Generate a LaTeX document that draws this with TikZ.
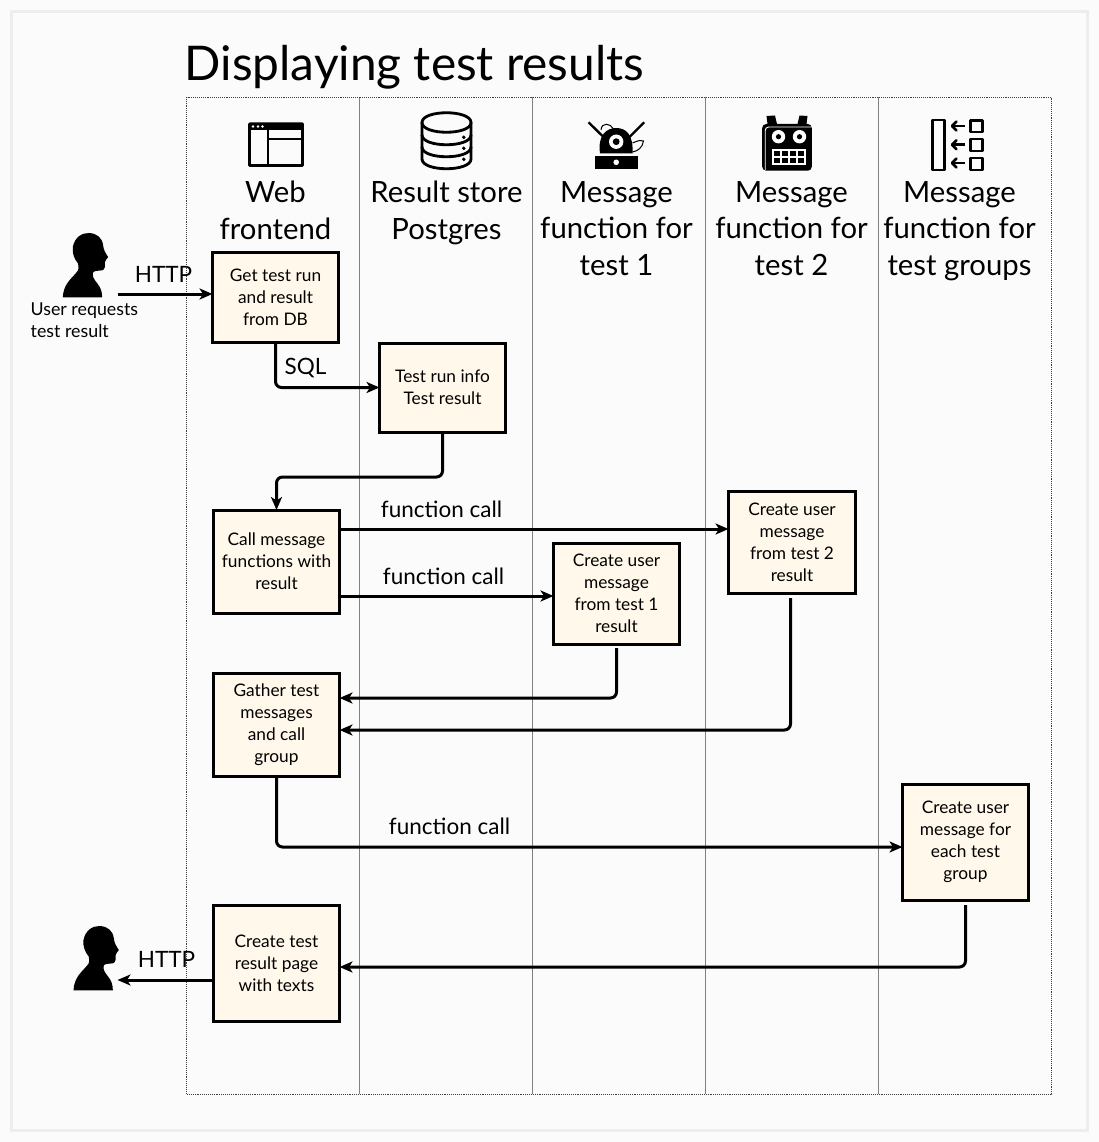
\documentclass[tikz,border=0pt]{standalone}
\usepackage{fontspec}
\setmainfont{Lato}
\usetikzlibrary{arrows.meta,calc}
\definecolor{pagebg}{HTML}{FBFBFB}
\definecolor{framec}{HTML}{EDEDED}
\definecolor{boxfill}{HTML}{FFF8EB}
\definecolor{lanec}{HTML}{808080}
\tikzset{
  x=1pt,y=-1pt,
  box/.style={draw=black,line width=3pt,fill=boxfill,align=center,inner sep=0pt,outer sep=0pt,
    font=\fontsize{17.3}{22}\selectfont,execute at begin node={\rule{0pt}{16pt}}},
  lowered/.style={execute at begin node={\rule{0pt}{19pt}}},
  lanehead/.style={align=center,inner sep=0pt,font=\fontsize{29.3}{36.5}\selectfont},
  lbl/.style={inner sep=0pt,font=\fontsize{22.5}{25}\selectfont},
  conn/.style={line width=3pt,rounded corners=6pt,-{Stealth[length=13pt,width=11pt,inset=3.5pt]}},
  lane/.style={draw=lanec,line width=0.9pt},
  ico/.style={line width=2.8pt,line cap=round,line join=round},
  personshape/.pic={
    \fill[black,x=0.3333pt,y=-0.3333pt]
      (42,241) .. controls (44,205) and (62,190) .. (80,170)
      .. controls (92,158) and (90,150) .. (88,140)
      .. controls (76,125) and (70,110) .. (72,90)
      .. controls (78,60) and (100,47) .. (122,48)
      .. controls (145,50) and (160,62) .. (163,85)
      .. controls (164,98) and (170,108) .. (178,120)
      .. controls (174,128) and (168,130) .. (168,136)
      .. controls (170,148) and (168,158) .. (160,160)
      .. controls (150,162) and (138,160) .. (133,166)
      .. controls (130,178) and (134,185) .. (146,200)
      .. controls (156,212) and (160,225) .. (160,241) -- cycle;
  }
}
\begin{document}
\begin{tikzpicture}
\useasboundingbox (0.5,0) rectangle (1099.5,1142);
\fill[pagebg] (0,0) rectangle (1100,1142);
\draw[framec,line width=3pt] (11.5,11.5) rectangle (1087.5,1130.5);

% title
\node[anchor=base west,inner sep=0pt,font=\fontsize{47.8}{50}\selectfont] (title) at (185,81) {Displaying test results};

% lanes
\draw[lane] (360,97) -- (360,1094);
\draw[lane] (533,97) -- (533,1094);
\draw[lane] (706,97) -- (706,1094);
\draw[lane] (879,97) -- (879,1094);
\draw[black!75,line width=0.9pt,densely dotted] (187,97) rectangle (1052,1094);

% lane heads
\node[lanehead,anchor=base] (h1) at (276,239.3) {Web\\frontend};
\node[lanehead,anchor=base] (h2) at (447,239.3) {Result store\\Postgres};
\node[lanehead,anchor=base] (h3) at (617,275) {Message\\function for\\test 1};
\node[lanehead,anchor=base] (h4) at (792,275) {Message\\function for\\test 2};
\node[lanehead,anchor=base] (h5) at (960,275) {Message\\function for\\test groups};

% web icon
\draw[line width=2.4pt,line join=round] (250,124) rectangle (303,165.5);
\fill[black,rounded corners=1pt] (249,122.5) rectangle (304,130);
\fill[white] (253.5,126.5) circle (1.3) (258.5,126.5) circle (1.3) (263,126.5) circle (1.3);
\draw[line width=2pt] (268,130) -- (268,165.5) (268,139) -- (303,139);

% database icon
\draw[ico] (422.5,122.5) .. controls (422.5,109.5) and (471.5,109.5) .. (471.5,122.5)
  .. controls (471.5,135.5) and (422.5,135.5) .. (422.5,122.5) -- cycle;
\draw[ico] (422.5,122.5) -- (422.5,159) .. controls (422.5,172) and (471.5,172) .. (471.5,159) -- (471.5,122.5);
\draw[ico] (422.5,135) .. controls (422.5,148) and (471.5,148) .. (471.5,135);
\draw[ico] (422.5,147) .. controls (422.5,160) and (471.5,160) .. (471.5,147);
\fill[black] (464.3,137.3) circle (1.9) (464.3,148.3) circle (1.9) (464.3,159.3) circle (1.9);

% robot 1 icon
\fill[black] (595.7,156) rectangle (638,168.7);
\fill[white] (616.7,162.3) circle (2.8);
\fill[black] (600.5,153.5) .. controls (598,135) and (607,128) .. (616.7,128)
  .. controls (627,128) and (634,135) .. (633,153.5) -- cycle;
\draw[line width=2.4pt] (589,122.3) -- (604,137) (644.7,122.3) -- (630,137);
\fill[white] (616.7,141.7) circle (7.2);
\fill[black] (616.7,141.7) circle (3.4);
\draw[line width=1pt] (601.5,130) .. controls (602,122) and (611,123) .. (614,129);
\draw[line width=1pt] (633,143) .. controls (640,140) and (642,140) .. (644,141)
  .. controls (643,148) and (638,151) .. (633,152);

% robot 2 icon
\fill[black] (768,124) -- (767,116) -- (775.5,115.5) -- (777.5,124) -- cycle;
\fill[black] (798,124) -- (800,115.5) -- (808,116) -- (807,124) -- cycle;
\fill[black,rounded corners=4pt] (762.7,124) rectangle (812.3,170.7);
\draw[white,line width=0.9pt,rounded corners=3.5pt] (765.7,170) -- (765.7,127) -- (812,127);
\fill[white] (779,136.7) circle (6.7) (800,136.7) circle (6.7);
\fill[black] (779,136.7) circle (2.6) (800,136.7) circle (2.6);
\draw[white,line width=1.1pt,fill=black] (773.5,150) rectangle (805.5,164);
\draw[white,line width=1.1pt] (781.5,150) -- (781.5,164) (789.5,150) -- (789.5,164) (797.5,150) -- (797.5,164) (773.5,157) -- (805.5,157);

% groups icon
\draw[ico] (933,120) rectangle (945,170);
\draw[ico] (971,120.5) rectangle (983,132);
\draw[ico] (971,139) rectangle (983,151);
\draw[ico] (971,158) rectangle (983,170);
\foreach \iy in {126,144.7,163}{
  \draw[line width=2.6pt] (965.5,\iy) -- (952.5,\iy);
  \draw[line width=2.6pt,line cap=round,line join=round] (957,\iy-4.5) -- (952.5,\iy) -- (957,\iy+4.5);
}

% people
\pic at (49.3,217) {personshape};
\pic at (60,910) {personshape};

% boxes
\node[box,minimum width=126pt,minimum height=90pt] (b1) at (276,297) {Get test run\\and result\\from DB};
\node[box,minimum width=126pt,minimum height=89pt] (b2) at (443,387.5) {Test run info\\Test result};
\node[box,minimum width=126pt,minimum height=103pt] (b3) at (277,561.5) {Call message\\functions with\\result};
\node[box,minimum width=126pt,minimum height=101pt] (b4) at (617,593.5) {Create user\\message\\from test 1\\result};
\node[box,minimum width=127pt,minimum height=102pt] (b5) at (792.5,542) {Create user\\message\\from test 2\\result};
\node[box,lowered,minimum width=126pt,minimum height=103pt] (b6) at (277,724.5) {Gather test\\messages\\and call\\group};
\node[box,lowered,minimum width=126pt,minimum height=116pt] (b7) at (966,842) {Create user\\message for\\each test\\group};
\node[box,minimum width=126pt,minimum height=116pt] (b8) at (277,963) {Create test\\result page\\with texts};

% user texts
\node[anchor=base west,align=left,inner sep=0pt,font=\fontsize{17.8}{22}\selectfont] (utext) at (31,337) {User requests\\test result};

% connector ends
\coordinate (ustart) at (118,294);
\coordinate (uend) at (118,980);
\coordinate (b4off) at (617,648);
\coordinate (b5off) at (791,598);
\coordinate (b7off) at (966,905);

% connectors
\draw[conn] (ustart) -- (ustart -| b1.west);
\draw[conn] (b1.south) |- (b2.west);
\draw[conn] (b2.south) -- (443,477) -- (277,477) -- (b3.north);
\draw[conn] (b3.east |- 0,529) -- (b5.west |- 0,529);
\draw[conn] (b3.east |- 0,596) -- (b4.west |- 0,596);
\draw[conn] (b4off) |- (b6.east |- 0,698);
\draw[conn] (b5off) |- (b6.east |- 0,730);
\draw[conn] (b6.south) |- (b7.west |- 0,847);
\draw[conn] (b7off) |- (b8.east |- 0,967);
\draw[conn] (b8.west |- uend) -- (uend);

% labels
\node[lbl] (l1) at (164,274) {HTTP};
\node[lbl] (l2) at (306,368.5) {SQL};
\node[lbl] (l3) at (442,509) {function call};
\node[lbl] (l4) at (444,576) {function call};
\node[lbl] (l5) at (450,826) {function call};
\node[lbl] (l6) at (167,959) {HTTP};
\end{tikzpicture}
\end{document}
